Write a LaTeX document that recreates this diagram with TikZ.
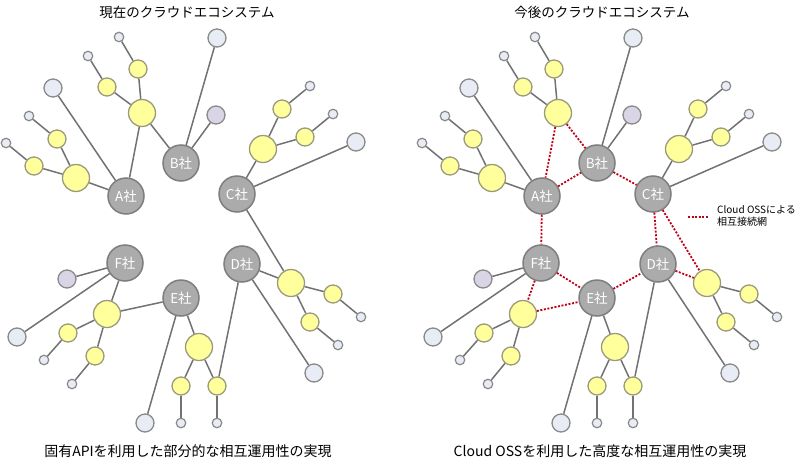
\documentclass[tikz,border=0pt]{standalone}
\usepackage{fontspec}
\setmainfont{Noto Sans CJK JP}
\definecolor{cofill}{HTML}{ABABAB}
\definecolor{coedge}{HTML}{7E7E7E}
\definecolor{yfill}{HTML}{FFFF9C}
\definecolor{yedge}{HTML}{9A9A7E}
\definecolor{lfill}{HTML}{E8ECF4}
\definecolor{ledge}{HTML}{8A8A8A}
\definecolor{pfill}{HTML}{DAD5E6}
\definecolor{lncol}{HTML}{727272}
\definecolor{redcol}{HTML}{C00018}
\tikzset{
  co/.style={circle,fill=cofill,draw=coedge,line width=1.5pt,minimum size=36pt,inner sep=0pt,text=white,font=\fontsize{13.5}{13.5}\selectfont},
  by/.style={circle,fill=yfill,draw=yedge,line width=1.3pt,minimum size=27pt,inner sep=0pt},
  my/.style={circle,fill=yfill,draw=yedge,line width=1.3pt,minimum size=18pt,inner sep=0pt},
  lc/.style={circle,fill=lfill,draw=ledge,line width=1.3pt,minimum size=18pt,inner sep=0pt},
  sc/.style={circle,fill=lfill,draw=ledge,line width=1.2pt,minimum size=9.5pt,inner sep=0pt},
  pu/.style={circle,fill=pfill,draw=ledge,line width=1.3pt,minimum size=18pt,inner sep=0pt},
  ln/.style={draw=lncol,line width=1.5pt},
  rd/.style={draw=redcol,line width=1.8pt,dash pattern=on 2pt off 1.6pt},
  ttl/.style={font=\fontsize{13.5}{14}\selectfont,text=black,inner sep=0pt},
  btm/.style={font=\fontsize{14}{15}\selectfont,text=black,inner sep=0pt}
}
\newcommand{\ecotree}[2]{%
  % companies
  \node[co] (#1A) at (126,196) {A社};
  \node[co] (#1B) at (181,163) {B社};
  \node[co] (#1C) at (237,194) {C社};
  \node[co] (#1D) at (242,264) {D社};
  \node[co] (#1E) at (181,298) {E社};
  \node[co] (#1F) at (125,263) {F社};
  % A group
  \node[lc] (#1Al) at (53,88) {};
  \node[by] (#1Ay) at (142,113) {};
  \node[my] (#1Aya) at (138,69) {};
  \node[sc] (#1Ayas) at (119,37) {};
  \node[my] (#1Ayb) at (107,87) {};
  \node[sc] (#1Aybs) at (88,56) {};
  \node[by] (#1Az) at (76,178) {};
  \node[my] (#1Aza) at (57,139) {};
  \node[sc] (#1Azas) at (29,116) {};
  \node[my] (#1Azb) at (34,166) {};
  \node[sc] (#1Azbs) at (6,143) {};
  % B group
  \node[lc] (#1Bl) at (217,38) {};
  \node[pu] (#1Bp) at (216,115) {};
  % C group
  \node[by] (#1Cy) at (263,149) {};
  \node[my] (#1Cya) at (282,109) {};
  \node[sc] (#1Cyas) at (310,86) {};
  \node[my] (#1Cyb) at (305,137) {};
  \node[sc] (#1Cybs) at (333,114) {};
  \node[lc] (#1Cl) at (356,142) {};
  % D group
  \node[by] (#1Dy) at (291,283) {};
  \node[my] (#1Dya) at (333,294) {};
  \node[sc] (#1Dyas) at (361,317) {};
  \node[my] (#1Dyb) at (310,322) {};
  \node[sc] (#1Dybs) at (338,345) {};
  \node[lc] (#1Dl) at (314,373) {};
  % E group
  \node[lc] (#1El) at (145,423) {};
  \node[by] (#1Ey) at (199,347) {};
  \node[my] (#1Eya) at (181,386) {};
  \node[sc] (#1Eyas) at (181,423) {};
  \node[my] (#1Eyb) at (217,386) {};
  \node[sc] (#1Eybs) at (217,423) {};
  % F group
  \node[pu] (#1Fp) at (67,279) {};
  \node[lc] (#1Fl) at (17,337) {};
  \node[by] (#1Fy) at (107,314) {};
  \node[my] (#1Fya) at (68,333) {};
  \node[sc] (#1Fyas) at (44,360) {};
  \node[my] (#1Fyb) at (95,356) {};
  \node[sc] (#1Fybs) at (72,384) {};
  % solid links
  \draw[ln] (#1A) -- (#1Al);
  \draw[ln] (#1A) -- (#1Az);
  \draw[ln] (#1Ay) -- (#1Aya);
  \draw[ln] (#1Aya) -- (#1Ayas);
  \draw[ln] (#1Ay) -- (#1Ayb);
  \draw[ln] (#1Ayb) -- (#1Aybs);
  \draw[ln] (#1Az) -- (#1Aza);
  \draw[ln] (#1Aza) -- (#1Azas);
  \draw[ln] (#1Az) -- (#1Azb);
  \draw[ln] (#1Azb) -- (#1Azbs);
  \draw[ln] (#1B) -- (#1Bl);
  \draw[ln] (#1B) -- (#1Bp);
  \draw[ln] (#1C) -- (#1Cy);
  \draw[ln] (#1Cy) -- (#1Cya);
  \draw[ln] (#1Cya) -- (#1Cyas);
  \draw[ln] (#1Cy) -- (#1Cyb);
  \draw[ln] (#1Cyb) -- (#1Cybs);
  \draw[ln] (#1C) -- (#1Cl);
  \draw[ln] (#1Dy) -- (#1Dya);
  \draw[ln] (#1Dya) -- (#1Dyas);
  \draw[ln] (#1Dy) -- (#1Dyb);
  \draw[ln] (#1Dyb) -- (#1Dybs);
  \draw[ln] (#1D) -- (#1Dl);
  \draw[ln] (#1D) -- (#1Eyb);
  \draw[ln] (#1E) -- (#1El);
  \draw[ln] (#1E) -- (#1Ey);
  \draw[ln] (#1Ey) -- (#1Eya);
  \draw[ln] (#1Eya) -- (#1Eyas);
  \draw[ln] (#1Ey) -- (#1Eyb);
  \draw[ln] (#1Eyb) -- (#1Eybs);
  \draw[ln] (#1F) -- (#1Fp);
  \draw[ln] (#1F) -- (#1Fl);
  \draw[ln] (#1Fy) -- (#1Fya);
  \draw[ln] (#1Fya) -- (#1Fyas);
  \draw[ln] (#1Fy) -- (#1Fyb);
  \draw[ln] (#1Fyb) -- (#1Fybs);
  % links that become the OSS network
  \draw[#2] (#1Ay) -- (#1A);
  \draw[#2] (#1Ay) -- (#1B);
  \draw[#2] (#1C) -- (#1Dy);
  \draw[#2] (#1D) -- (#1Dy);
  \draw[#2] (#1F) -- (#1Fy);
  \draw[#2] (#1Fy) -- (#1E);
}
\begin{document}
\begin{tikzpicture}[x=1pt,y=-1pt]
  \useasboundingbox[fill=white] (0,0) rectangle (800,463);
  \node[ttl] (t1) at (187,12) {現在のクラウドエコシステム};
  \node[ttl] (t2) at (602,12) {今後のクラウドエコシステム};
  \node[btm] (b1) at (188,451) {固有APIを利用した部分的な相互運用性の実現};
  \node[btm] (b2) at (600,451) {Cloud OSSを利用した高度な相互運用性の実現};
  \begin{scope}
    \ecotree{L}{ln}
  \end{scope}
  \begin{scope}[xshift=416pt]
    \ecotree{R}{rd}
    \draw[rd] (RA) -- (RB);
    \draw[rd] (RB) -- (RC);
    \draw[rd] (RA) -- (RF);
    \draw[rd] (RC) -- (RD);
    \draw[rd] (RF) -- (RE);
    \draw[rd] (RE) -- (RD);
  \end{scope}
  \coordinate (lg1) at (688,217);
  \coordinate (lg2) at (708,217);
  \draw[rd] (lg1) -- (lg2);
  \node[anchor=west,align=left,inner sep=0pt,font=\fontsize{10}{12}\selectfont] (lgt) at (717,216) {Cloud OSSによる\\相互接続網};
\end{tikzpicture}
\end{document}
